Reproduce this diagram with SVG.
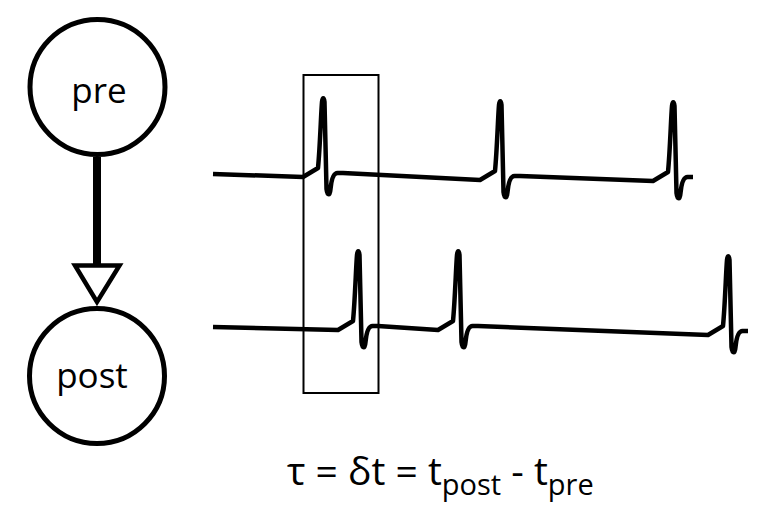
<svg xmlns="http://www.w3.org/2000/svg" width="783" height="526" viewBox="0 0 783 526">
  <defs>
    <style>
      .node { fill: #ffffff; stroke: #000000; stroke-width: 5; }
      .label { font-family: "Open Sans", "Liberation Sans", sans-serif; font-size: 35px; fill: #000000; text-anchor: middle; }
      .train { fill: none; stroke: #000000; stroke-width: 4.5; stroke-linejoin: round; stroke-linecap: butt; }
      .formula { font-family: "Open Sans", "Liberation Sans", sans-serif; font-size: 39px; fill: #000000; }
    </style>
  </defs>
  <rect width="783" height="526" fill="#ffffff"/>

  <g id="connectors">
    <line x1="97" y1="157" x2="97" y2="266" stroke="#000000" stroke-width="8"/>
    <polygon points="75,265.5 119.5,265.5 97,302" fill="#ffffff" stroke="#000000" stroke-width="4.5" stroke-linejoin="miter"/>
  </g>

  <g id="node-pre">
    <circle class="node" cx="97.5" cy="87" r="67.5"/>
    <text class="label" x="99" y="103">pre</text>
  </g>

  <g id="node-post">
    <circle class="node" cx="97" cy="376" r="67.5"/>
    <text class="label" x="92" y="388">post</text>
  </g>

  <g id="spike-trains">
    <path class="train" d="M213,174 L303,177 l15,-9 c2,-20 3,-55 4,-66 c0.5,-5 2,-5 2.5,0 l2,87 c0.8,7 3.5,7 4,0 c1,-10 3,-16 7,-16 l5.5,0 L480,180 l15,-9 c2,-20 3,-55 4,-66 c0.5,-5 2,-5 2.5,0 l2,87 c0.8,7 3.5,7 4,0 c1,-10 3,-16 7,-16 l5.5,0 L653,181 l15,-9 c2,-20 3,-55 4,-66 c0.5,-5 2,-5 2.5,0 l2,87 c0.8,7 3.5,7 4,0 c1,-10 3,-16 7,-16 l5.5,0"/>
    <path class="train" d="M213,327 L338,330 l15,-9 c2,-20 3,-55 4,-66 c0.5,-5 2,-5 2.5,0 l2,87 c0.8,7 3.5,7 4,0 c1,-10 3,-16 7,-16 l5.5,0 L438,330 l15,-9 c2,-20 3,-55 4,-66 c0.5,-5 2,-5 2.5,0 l2,87 c0.8,7 3.5,7 4,0 c1,-10 3,-16 7,-16 l5.5,0 L708,335 l15,-9 c2,-20 3,-55 4,-66 c0.5,-5 2,-5 2.5,0 l2,87 c0.8,7 3.5,7 4,0 c1,-10 3,-16 7,-16 l5.5,0"/>
  </g>

  <g id="window">
    <rect x="303.5" y="75" width="75" height="318" fill="none" stroke="#000000" stroke-width="2"/>
  </g>

  <g id="formula">
    <text class="formula" x="287" y="485">τ = δt = t<tspan font-size="29" dy="10">post</tspan><tspan dy="-10"> - t</tspan><tspan font-size="29" dy="10">pre</tspan></text>
  </g>
</svg>
